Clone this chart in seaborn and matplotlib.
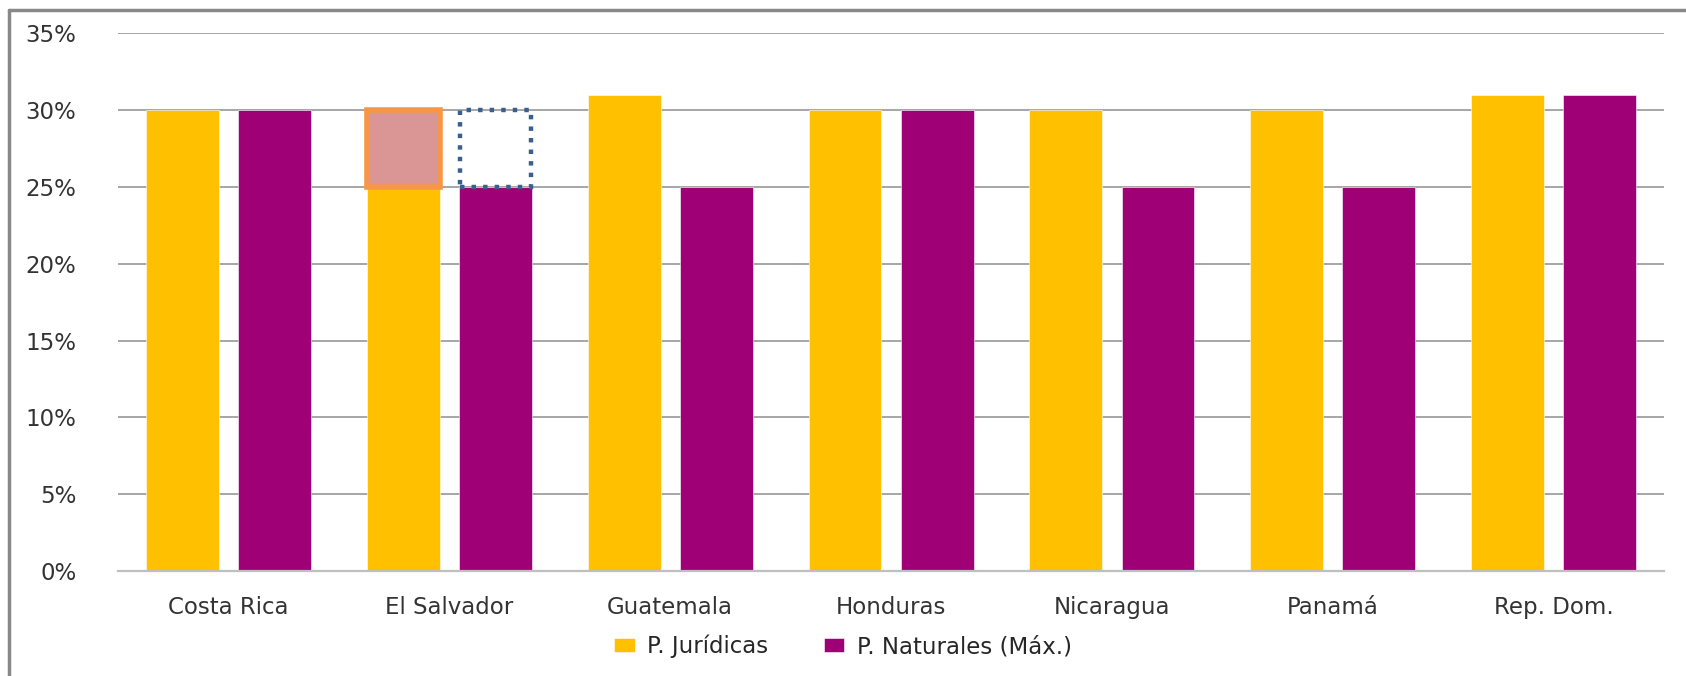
import os
import matplotlib
matplotlib.use("Agg")
import matplotlib.pyplot as plt
from matplotlib.lines import Line2D
from matplotlib.ticker import FuncFormatter
from matplotlib.font_manager import FontProperties
import seaborn as sns
import pandas as pd

paises = ["Costa Rica", "El Salvador", "Guatemala", "Honduras",
          "Nicaragua", "Panamá", "Rep. Dom."]
juridicas = [30, 25, 31, 30, 30, 30, 31]
naturales = [30, 25, 25, 30, 25, 25, 31]
series = ["P. Jurídicas", "P. Naturales (Máx.)"]

# El Salvador: aumento de 25% a 30% resaltado
es_pais = "El Salvador"
es_jur_nuevo = 30
es_nat_nuevo = 30

amarillo = "#FFC000"
morado = "#A00075"

if __name__ == "__main__":
    sns.set_style("white")
    plt.rcParams["font.family"] = ["DejaVu Sans"]

    # use the bundled regular DejaVu Sans file (not the condensed one)
    ttf = os.path.join(matplotlib.get_data_path(), "fonts", "ttf", "DejaVuSans.ttf")
    fp = FontProperties(fname=ttf, size=16.5)

    fig = plt.figure(figsize=(16.86, 6.76), dpi=100)
    ax = fig.add_axes([0.070, 0.155, 0.917, 0.796])

    df = pd.DataFrame({
        "pais": paises * 2,
        "serie": [series[0]] * len(paises) + [series[1]] * len(paises),
        "valor": juridicas + naturales,
    })

    sns.barplot(data=df, x="pais", y="valor", hue="serie", order=paises,
                hue_order=series, palette=[amarillo, morado],
                width=0.835, gap=0.21, saturation=1, errorbar=None,
                edgecolor="white", linewidth=0.4, ax=ax)

    # overlays for El Salvador
    i = paises.index(es_pais)
    bj = ax.containers[0][i]
    bn = ax.containers[1][i]
    base_j = juridicas[i]
    base_n = naturales[i]
    ax.bar(bj.get_x() + bj.get_width() / 2, es_jur_nuevo - base_j, bottom=base_j,
           width=bj.get_width(), color="#D99694", edgecolor="#F79646",
           linewidth=4, label="_nolegend_", zorder=3)
    ax.bar(bn.get_x() + bn.get_width() / 2, es_nat_nuevo - base_n, bottom=base_n,
           width=bn.get_width() * 0.97, facecolor="none", edgecolor="#3A5F8F",
           linewidth=3.2, linestyle=(0, (1, 1.6)), label="_nolegend_", zorder=3)

    ax.set_ylim(0, 35)
    ax.set_yticks(range(0, 36, 5))
    ax.yaxis.set_major_formatter(FuncFormatter(lambda v, p: "%d%%" % v))
    ax.set_xlim(-0.5, len(paises) - 0.5)
    ax.set_xlabel("")
    ax.set_ylabel("")
    ax.grid(axis="y", color="#A6A6A6", linewidth=1.4)
    ax.set_axisbelow(True)
    for s in ["left", "top", "right"]:
        ax.spines[s].set_visible(False)
    ax.spines["bottom"].set_color("#BFBFBF")
    ax.spines["bottom"].set_linewidth(1.6)
    ax.tick_params(axis="y", length=0, pad=30, labelcolor="#333333")
    ax.tick_params(axis="x", length=0, pad=18, labelcolor="#333333")
    for t in ax.get_xticklabels() + ax.get_yticklabels():
        t.set_fontproperties(fp)

    handles, labels = ax.get_legend_handles_labels()
    ax.legend(handles, labels, loc="center", bbox_to_anchor=(0.5, 0.044),
              bbox_transform=fig.transFigure, ncol=2, frameon=False,
              prop=fp, handlelength=0.9, handleheight=0.6,
              handletextpad=0.55, columnspacing=2.4)

    # marco del gráfico
    fig.add_artist(Line2D([0.0053, 1.0], [0.985, 0.985], color="#888888",
                          linewidth=2.5, transform=fig.transFigure))
    fig.add_artist(Line2D([0.0053, 0.0053], [0.0, 0.985], color="#888888",
                          linewidth=2.5, transform=fig.transFigure))

    plt.savefig("out.png", dpi=100)
